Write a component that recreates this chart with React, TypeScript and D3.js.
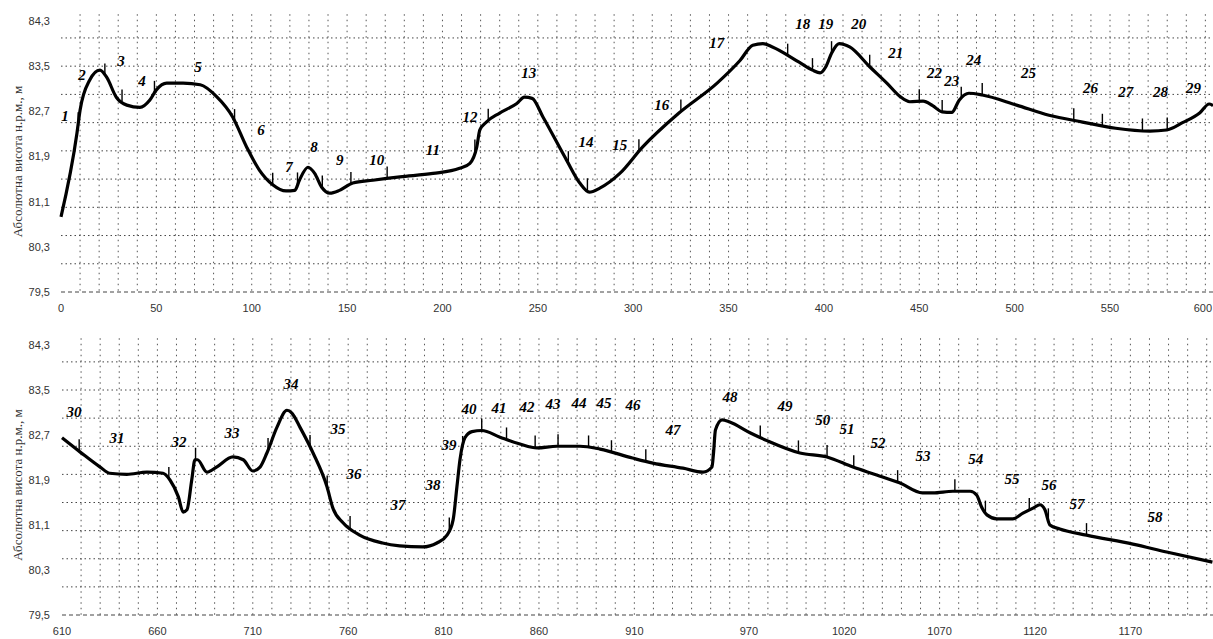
import * as d3 from "d3";

// верхній профіль (0–600 м)
const topDist = [0, 8.4, 10, 15, 20.4, 24, 29, 34.5, 41.4, 46.6, 50, 55.4, 64, 73, 81.6, 90, 97.3, 104, 111, 118, 122.6, 125, 129.5, 133, 136.6, 141, 146, 153, 163.5, 177.7, 195, 209, 214.4, 218, 219.6, 223, 230, 239, 243, 247, 252.7, 265, 272, 277, 282.5, 293, 305, 324, 344, 356, 362.7, 368, 373, 387, 394, 398, 401, 404, 408, 413.5, 424, 433, 440, 445, 452, 457, 462, 467, 471, 476, 483, 501, 518, 535.6, 553, 571, 579.6, 588, 597, 602, 604];
const topElev = [80.83, 82.32, 82.72, 83.25, 83.43, 83.3, 82.95, 82.81, 82.77, 82.9, 83.08, 83.2, 83.2, 83.17, 82.96, 82.6, 82.07, 81.66, 81.4, 81.29, 81.3, 81.48, 81.71, 81.6, 81.36, 81.25, 81.3, 81.43, 81.48, 81.54, 81.6, 81.69, 81.78, 82.07, 82.37, 82.51, 82.67, 82.84, 82.95, 82.93, 82.6, 81.84, 81.43, 81.27, 81.34, 81.6, 82.07, 82.67, 83.2, 83.6, 83.87, 83.9, 83.84, 83.57, 83.43, 83.38, 83.49, 83.73, 83.9, 83.84, 83.49, 83.2, 82.96, 82.87, 82.88, 82.8, 82.69, 82.68, 82.9, 83.02, 82.99, 82.81, 82.63, 82.51, 82.4, 82.35, 82.37, 82.5, 82.67, 82.83, 82.8];
const topMarks = [9, 23, 32, 49, 91, 111, 124, 137, 152, 171, 217, 224, 266, 276, 303, 325, 381, 394, 404, 424, 450, 462, 472, 483, 531, 546, 567, 580];
const topLabelX = [2.1, 11, 31.4, 42.5, 71.8, 104.8, 119.5, 132.6, 146.2, 165.6, 195, 214.4, 245.3, 275.2, 293, 315, 343.8, 388.9, 401, 418.2, 437.6, 458, 467, 478.5, 507.3, 539.8, 558.2, 576.5, 593.8];
const topLabelY = [82.63, 83.34, 83.59, 83.25, 83.49, 82.37, 81.71, 82.07, 81.84, 81.84, 82.02, 82.6, 83.38, 82.16, 82.1, 82.81, 83.91, 84.26, 84.26, 84.26, 83.73, 83.38, 83.25, 83.61, 83.38, 83.11, 83.04, 83.04, 83.11];
const topTicks = [0, 50, 100, 150, 200, 250, 300, 350, 400, 450, 500, 550, 600];

// нижній профіль (610–1213 м)
const botDist = [610, 619.4, 630, 635, 644, 654.5, 663, 666.6, 671, 673.5, 675.5, 678, 679.7, 681, 686, 691, 699.6, 705, 710, 713.8, 717.4, 722.7, 727.9, 730.5, 734.7, 741.6, 748.9, 752, 757.3, 766, 778, 787, 799, 806.5, 811.8, 815, 817, 818.6, 821.2, 824.9, 830, 839.6, 850, 859, 869.4, 881.5, 892, 909, 919.7, 935.5, 946, 950.7, 951.5, 952.5, 956, 960, 970.6, 979.5, 996.8, 1011, 1024.6, 1037, 1049, 1061, 1066.5, 1077, 1086, 1089.5, 1092, 1094.8, 1100, 1108.4, 1113.7, 1119, 1122.6, 1125.2, 1127.8, 1133, 1147, 1171.3, 1189, 1213];
const botElev = [82.65, 82.4, 82.13, 82.02, 82.0, 82.04, 82.02, 81.9, 81.6, 81.33, 81.37, 81.9, 82.26, 82.26, 82.04, 82.13, 82.31, 82.26, 82.06, 82.13, 82.38, 82.84, 83.14, 83.09, 82.84, 82.38, 81.78, 81.4, 81.14, 80.92, 80.78, 80.73, 80.71, 80.78, 80.92, 81.19, 81.78, 82.26, 82.65, 82.76, 82.78, 82.66, 82.54, 82.47, 82.5, 82.5, 82.45, 82.29, 82.2, 82.11, 82.04, 82.13, 82.38, 82.79, 82.97, 82.93, 82.74, 82.6, 82.38, 82.31, 82.13, 81.99, 81.85, 81.67, 81.67, 81.7, 81.7, 81.63, 81.42, 81.28, 81.21, 81.21, 81.31, 81.4, 81.46, 81.37, 81.1, 81.03, 80.92, 80.76, 80.62, 80.44];
const botMarks = [619, 666, 680, 718, 740, 749, 761, 813, 820, 830, 843, 858, 870, 886, 898, 916, 951, 976, 996, 1011, 1025, 1048, 1078, 1094, 1117, 1127, 1147];
const botLabelX = [616.3, 638.8, 671.3, 699.1, 730, 754.7, 763, 786.1, 804.4, 812.8, 823.3, 839, 853.7, 867.3, 881, 894.1, 909.3, 930.2, 960.1, 988.9, 1008.8, 1021.4, 1037.7, 1061.3, 1089, 1107.9, 1127.3, 1142, 1182.9];
const botLabelY = [83.11, 82.66, 82.58, 82.74, 83.62, 82.82, 82.01, 81.46, 81.81, 82.52, 83.16, 83.18, 83.2, 83.25, 83.27, 83.27, 83.23, 82.79, 83.38, 83.22, 82.97, 82.81, 82.56, 82.34, 82.27, 81.92, 81.81, 81.47, 81.24];
const botTicks = [610, 660, 710, 760, 810, 860, 910, 970, 1020, 1070, 1120, 1170];

const yTicks = [79.5, 80.3, 81.1, 81.9, 82.7, 83.5, 84.3];
const yGrid = [79.5, 80, 80.5, 81, 81.5, 82, 82.5, 83, 83.5, 84];
const yTitle = "Абсолютна висота н.р.м., м";

const W = 1213;
const H = 639;

type PanelProps = {
  dist: number[];
  elev: number[];
  marks: number[];
  labelX: number[];
  labelY: number[];
  firstNo: number;
  ticks: number[];
  xDomain: [number, number];
  xRange: [number, number];
  yRange: [number, number];
  gridStart: number;
};

function Panel(p: PanelProps) {
  const x = d3.scaleLinear().domain(p.xDomain).range(p.xRange);
  const y = d3.scaleLinear().domain([79.5, 84.3]).range(p.yRange);
  const pts = p.dist.map((d, i) => [d, p.elev[i]] as [number, number]);
  const line = d3
    .line<[number, number]>()
    .x((d) => x(d[0]))
    .y((d) => y(d[1]))
    .curve(d3.curveMonotoneX);

  // висота профілю в точці пікету
  const interp = d3.scaleLinear().domain(p.dist).range(p.elev);

  const vGrid = d3.range(p.gridStart, p.xDomain[1], 10);
  const gridTop = y(84.42);
  const gridBot = y(79.5);
  const left = p.xRange[0];

  return (
    <g>
      {yGrid.map((v) => (
        <line
          key={"h" + v}
          x1={left}
          x2={W}
          y1={y(v)}
          y2={y(v)}
          stroke="#444"
          strokeWidth={1}
          strokeDasharray={v === 79.5 ? "4,3" : "1.5,3"}
        />
      ))}
      {vGrid.map((v) => (
        <line
          key={"v" + v}
          x1={x(v)}
          x2={x(v)}
          y1={gridTop}
          y2={gridBot}
          stroke="#555"
          strokeWidth={1}
          strokeDasharray="1.5,4"
        />
      ))}
      {yTicks.map((v) => (
        <text
          key={"yt" + v}
          x={50}
          y={y(v)}
          dy="0.35em"
          textAnchor="end"
          fontFamily="Liberation Sans, Arial, sans-serif"
          fontSize={11}
          fill="#333"
        >
          {v.toFixed(1).replace(".", ",")}
        </text>
      ))}
      {p.ticks.map((v) => {
        const tx = x(v);
        const atEdge = tx > W - 12;
        return (
          <text
            key={"xt" + v}
            x={atEdge ? W - 1 : tx}
            y={gridBot + 16}
            dy="0.35em"
            textAnchor={atEdge ? "end" : "middle"}
            fontFamily="Liberation Sans, Arial, sans-serif"
            fontSize={11}
            fill="#333"
          >
            {v}
          </text>
        );
      })}
      <text
        transform={`translate(17,${(y(84.3) + y(79.5)) / 2 + 5}) rotate(-90)`}
        textAnchor="middle"
        dy="0.35em"
        fontFamily="Liberation Serif, Times New Roman, serif"
        fontSize={13}
        fill="#333"
      >
        {yTitle}
      </text>
      <path d={line(pts) ?? ""} fill="none" stroke="#000" strokeWidth={3.2} strokeLinejoin="round" />
      {p.marks.map((m) => {
        const px = x(m);
        const py = y(interp(m));
        return <line key={"m" + m} x1={px} x2={px} y1={py} y2={py - 12} stroke="#000" strokeWidth={1.4} />;
      })}
      {p.labelX.map((lx, i) => (
        <text
          key={"l" + i}
          x={x(lx)}
          y={y(p.labelY[i])}
          dy="0.35em"
          textAnchor="middle"
          fontFamily="Liberation Serif, Times New Roman, serif"
          fontWeight="bold"
          fontStyle="italic"
          fontSize={15}
          fill="#000"
        >
          {p.firstNo + i}
        </text>
      ))}
    </g>
  );
}

export default function App() {
  return (
    <svg
      width={W}
      height={H}
      style={{ position: "absolute", left: 0, top: 0, background: "#fff" }}
    >
      <rect width={W} height={H} fill="#fff" />
      <Panel
        dist={topDist}
        elev={topElev}
        marks={topMarks}
        labelX={topLabelX}
        labelY={topLabelY}
        firstNo={1}
        ticks={topTicks}
        xDomain={[0, 604]}
        xRange={[61, 1213]}
        yRange={[292, 21]}
        gridStart={10}
      />
      <Panel
        dist={botDist}
        elev={botElev}
        marks={botMarks}
        labelX={botLabelX}
        labelY={botLabelY}
        firstNo={30}
        ticks={botTicks}
        xDomain={[610, 1213.3]}
        xRange={[62, 1213]}
        yRange={[615, 345]}
        gridStart={620}
      />
    </svg>
  );
}
